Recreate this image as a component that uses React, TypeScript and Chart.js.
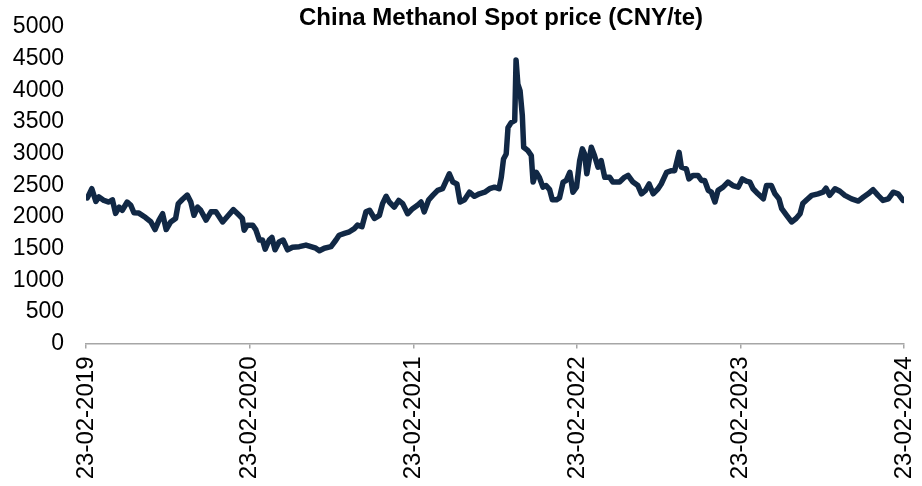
import React, { useEffect, useRef } from "react";
import { Chart, registerables } from "chart.js";

Chart.register(...registerables);

const chartTitle = "China Methanol Spot price (CNY/te)";

// x tick positions (days since 23-02-2019) and their labels
const tickDays = [0, 365, 731, 1096, 1461, 1826];
const tickLabels = ["23-02-2019", "23-02-2020", "23-02-2021", "23-02-2022", "23-02-2023", "23-02-2024"];

// observation dates as days since 23-02-2019
const dayOffsets = [
  3, 13, 22, 29, 40, 51, 59, 66, 74, 81, 92, 100, 107, 118, 133, 145, 154, 163, 171, 179,
  189, 200, 206, 215, 226, 234, 241, 249, 256, 268, 279, 290, 305, 316, 329, 342, 349, 353, 360, 372,
  379, 387, 394, 400, 409, 415, 422, 431, 440, 450, 461, 476, 491, 502, 513, 521, 532, 547, 558, 565,
  577, 588, 599, 606, 616, 625, 633, 644, 655, 662, 670, 677, 688, 698, 707, 718, 729, 740, 748, 755,
  765, 774, 785, 796, 811, 819, 828, 835, 845, 856, 867, 878, 890, 901, 912, 922, 927, 932, 938, 942,
  949, 957, 960, 964, 969, 974, 977, 986, 994, 998, 1005, 1012, 1020, 1027, 1035, 1041, 1050, 1057, 1065, 1072,
  1080, 1087, 1095, 1102, 1108, 1113, 1118, 1128, 1135, 1143, 1150, 1158, 1169, 1176, 1191, 1202, 1210, 1221, 1232, 1240,
  1249, 1257, 1266, 1277, 1284, 1296, 1307, 1314, 1324, 1329, 1340, 1346, 1355, 1366, 1374, 1381, 1389, 1396, 1404, 1411,
  1422, 1433, 1444, 1456, 1465, 1474, 1482, 1489, 1500, 1512, 1519, 1530, 1538, 1547, 1553, 1564, 1575, 1585, 1594, 1600,
  1609, 1620, 1634, 1645, 1652, 1660, 1672, 1683, 1694, 1709, 1724, 1735, 1746, 1757, 1768, 1779, 1791, 1802, 1813, 1824,
];

// spot price, CNY/te
const prices = [
  2300, 2445, 2245, 2315, 2260, 2235, 2270, 2055, 2155, 2105, 2235, 2185, 2065, 2060, 1990, 1920, 1800, 1950, 2050, 1800,
  1920, 1975, 2210, 2275, 2345, 2235, 2025, 2155, 2105, 1950, 2080, 2080, 1920, 2010, 2115, 2025, 1975, 1790, 1870, 1870,
  1800, 1635, 1635, 1490, 1635, 1675, 1480, 1605, 1635, 1480, 1520, 1530, 1555, 1530, 1505, 1465, 1505, 1530, 1635, 1710,
  1740, 1765, 1815, 1870, 1845, 2080, 2105, 1975, 2025, 2210, 2325, 2235, 2155, 2260, 2210, 2050, 2130, 2185, 2235, 2080,
  2270, 2340, 2420, 2445, 2680, 2550, 2520, 2235, 2270, 2390, 2325, 2365, 2390, 2445, 2470, 2445, 2625, 2915, 2995, 3410,
  3490, 3520, 4480, 4100, 3990, 3600, 3100, 3050, 2970, 2550, 2705, 2625, 2470, 2495, 2430, 2270, 2270, 2300, 2550, 2575,
  2705, 2390, 2470, 2890, 3075, 2995, 2680, 3100, 2970, 2785, 2890, 2625, 2625, 2550, 2550, 2625, 2655, 2550, 2495, 2365,
  2420, 2520, 2365, 2445, 2520, 2705, 2730, 2730, 3020, 2785, 2760, 2600, 2655, 2655, 2575, 2575, 2420, 2390, 2235, 2420,
  2470, 2550, 2495, 2470, 2600, 2565, 2550, 2445, 2365, 2285, 2495, 2495, 2365, 2285, 2130, 2025, 1920, 1975, 2050, 2210,
  2270, 2340, 2365, 2390, 2455, 2340, 2445, 2405, 2340, 2285, 2250, 2310, 2365, 2430, 2340, 2260, 2285, 2390, 2365, 2260,
];

const FONT = "'Liberation Sans', Arial, Helvetica, sans-serif";

export default function App() {
  const canvasRef = useRef<HTMLCanvasElement | null>(null);

  useEffect(() => {
    if (!canvasRef.current) return;

    const titlePlugin = {
      id: "customTitle",
      afterDraw(chart: any) {
        const { ctx, chartArea } = chart;
        ctx.save();
        ctx.font = `bold 24px ${FONT}`;
        ctx.fillStyle = "#000000";
        ctx.textAlign = "center";
        ctx.textBaseline = "alphabetic";
        ctx.fillText(chartTitle, (chartArea.left + chartArea.right) / 2 + 6, 25);
        ctx.restore();
      },
    };

    const chart = new Chart(canvasRef.current, {
      type: "line",
      data: {
        datasets: [
          {
            label: chartTitle,
            data: dayOffsets.map((d, i) => ({ x: d, y: prices[i] })),
            borderColor: "#112845",
            backgroundColor: "#112845",
            borderWidth: 5.5,
            pointRadius: 0,
            tension: 0,
            borderJoinStyle: "round",
            borderCapStyle: "round",
            fill: false,
          },
        ],
      },
      options: {
        animation: false,
        responsive: true,
        maintainAspectRatio: false,
        layout: { padding: { top: 27, right: 18, bottom: 0, left: 0 } },
        plugins: {
          legend: { display: false },
          title: { display: false },
          tooltip: { enabled: false },
        },
        scales: {
          x: {
            type: "linear",
            min: 0,
            max: 1826,
            afterBuildTicks(scale: any) {
              scale.ticks = tickDays.map((v) => ({ value: v }));
            },
            afterFit(scale: any) {
              scale.height = 142.5;
              scale.paddingLeft = 0;
              scale.paddingRight = 0;
            },
            ticks: {
              autoSkip: false,
              minRotation: 90,
              maxRotation: 90,
              padding: 8,
              color: "#000000",
              font: { family: FONT, size: 24 },
              callback(value: any) {
                const idx = tickDays.indexOf(Number(value));
                return idx >= 0 ? tickLabels[idx] : "";
              },
            },
            grid: {
              display: true,
              drawOnChartArea: false,
              drawTicks: true,
              tickLength: 5,
              color: "#a6a6a6",
              lineWidth: 1.5,
            },
            border: { display: true, color: "#a6a6a6", width: 1.5 },
          },
          y: {
            min: 0,
            max: 5000,
            ticks: {
              stepSize: 500,
              padding: 22,
              color: "#000000",
              font: { family: FONT, size: 23 },
              callback(value: any) {
                return String(value);
              },
            },
            afterFit(scale: any) {
              scale.width = 86;
              scale.paddingTop = 0;
              scale.paddingBottom = 0;
            },
            grid: { display: false, drawTicks: false },
            border: { display: false },
          },
        },
      },
      plugins: [titlePlugin],
    });

    return () => chart.destroy();
  }, []);

  return (
    <div style={{ position: "fixed", left: 0, top: 0, width: 922, height: 486, background: "#ffffff" }}>
      <canvas ref={canvasRef} />
    </div>
  );
}
